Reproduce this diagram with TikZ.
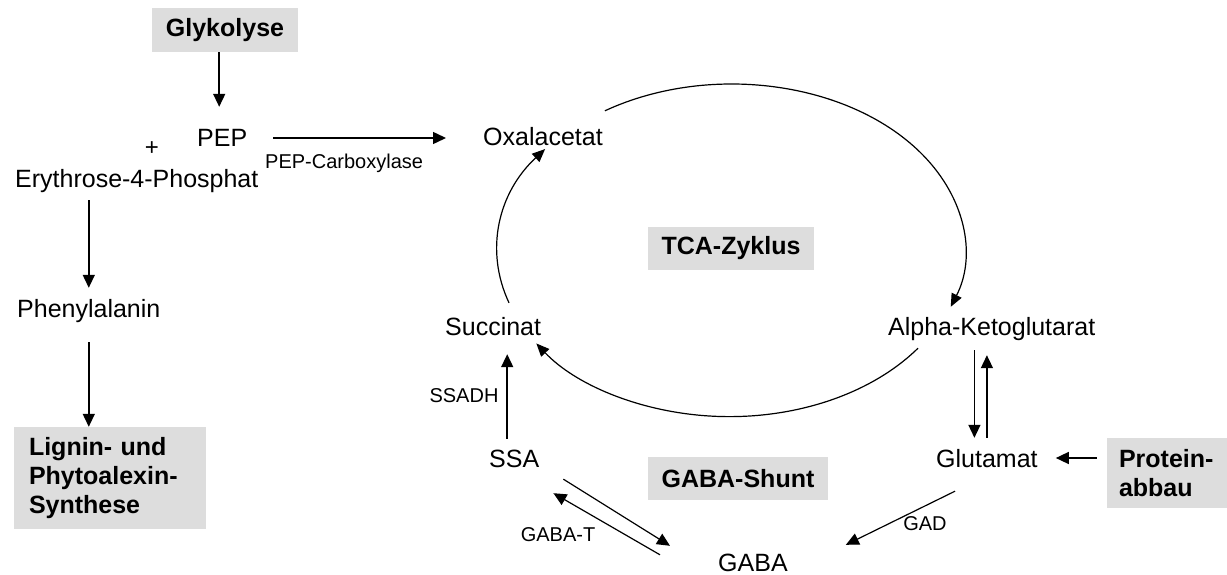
\documentclass[tikz,border=0pt]{standalone}
\usepackage{fontspec}
\setmainfont{Liberation Sans}
\usetikzlibrary{arrows.meta}
\definecolor{boxgray}{RGB}{221,221,221}
\begin{document}
\begin{tikzpicture}[x=1pt,y=-1pt,
  txt/.style={inner sep=0pt, font=\fontsize{25pt}{29pt}\selectfont, text height=18pt, text depth=5pt},
  lbl/.style={inner sep=0pt, font=\fontsize{20pt}{24pt}\selectfont},
  gbox/.style={fill=boxgray, inner sep=0pt, font=\bfseries\fontsize{25pt}{29pt}\selectfont},
  arr/.style={-{Triangle[length=13pt,width=12pt]}, line width=1.5pt},
  cyc/.style={-{Triangle[length=13pt,width=11pt]}, line width=1.2pt}]
\useasboundingbox (0,0) rectangle (1227,575);

% nodes
\node[gbox, minimum width=146pt, minimum height=44pt] (glyk) at (225,30) {Glykolyse};
\node[txt, anchor=base west] (pep) at (197,147) {PEP};
\node[lbl, font=\fontsize{24pt}{28pt}\selectfont] (plus) at (152,149) {+};
\node[txt, anchor=base west] (ery) at (15,188) {Erythrose-4-Phosphat};
\node[lbl, anchor=base west] (pepc) at (265,168) {PEP-Carboxylase};
\node[txt, anchor=base west] (oxa) at (483,146) {Oxalacetat};
\node[txt, anchor=base west] (phe) at (17,317) {Phenylalanin};
\node[gbox, minimum width=192pt, minimum height=102pt, text width=162pt, align=left] (lig) at (110,478) {Lignin- und\\Phytoalexin-\\Synthese};
\node[gbox, minimum width=166pt, minimum height=43pt] (tca) at (731,248) {TCA-Zyklus};
\node[txt, anchor=base west] (succ) at (445,335) {Succinat};
\node[txt, anchor=base west] (akg) at (888,335) {Alpha-Ketoglutarat};
\node[lbl] (ssadh) at (464,396) {SSADH};
\node[txt, anchor=base west] (ssa) at (489,467) {SSA};
\node[gbox, minimum width=180pt, minimum height=43pt] (shunt) at (738,478.5) {GABA-Shunt};
\node[txt, anchor=base west] (glut) at (936,467) {Glutamat};
\node[gbox, minimum width=120pt, minimum height=70pt, text width=96pt, align=left] (prot) at (1167,473) {Protein-\\abbau};
\node[lbl] (gabat) at (558,535) {GABA-T};
\node[lbl] (gad) at (925,524) {GAD};
\node[txt, anchor=base west] (gaba) at (718,571) {GABA};

% connectors
\draw[arr] ([xshift=-3pt]glyk.south -| pep.north) -- ([xshift=-3pt,yshift=22pt]pep.north);
\draw[arr] ([xshift=26pt,yshift=9pt]pep.base east) -- ([xshift=-37pt,yshift=9pt]pep.base east -| oxa.west);
\draw[arr] ([yshift=-7pt]phe.north |- ery.south) -- ([yshift=11pt]phe.north);
\draw[arr] ([yshift=-20pt]phe.south) -- (phe.south |- lig.north);

% TCA cycle
\draw[cyc] ([xshift=2pt,yshift=17pt]oxa.north east) arc[start angle=-123, end angle=20, x radius=233, y radius=166];
\draw[cyc] ([xshift=30pt,yshift=-8pt]akg.south west) arc[start angle=36, end angle=146, x radius=233, y radius=166];
\draw[cyc] ([xshift=64pt,yshift=14pt]succ.north west) arc[start angle=161.5, end angle=217.5, x radius=233, y radius=166];

% GABA shunt
\draw[arr] ([xshift=-7pt,yshift=10pt]ssa.north) -- ([xshift=-7pt,yshift=-14pt]ssa.north |- succ.south);
\draw[arr, line width=1.2pt] ([xshift=24pt,yshift=-7pt]ssa.south east) -- ([xshift=-48pt,yshift=7pt]gaba.north west);
\draw[arr, line width=1.2pt] ([xshift=-58pt,yshift=-2pt]gaba.north west) -- ([xshift=14pt,yshift=-21pt]ssa.south east);
\draw[arr, line width=1.2pt] ([xshift=19pt,yshift=-19pt]glut.south west) -- ([xshift=58pt,yshift=8pt]gaba.north east);
\draw[arr] ([xshift=-12.5pt,yshift=-10pt]glut.north |- akg.south) -- ([xshift=-12.5pt,yshift=11pt]glut.north);
\draw[arr] ([yshift=11pt]glut.north) -- ([yshift=-15pt]glut.north |- akg.south);
\draw[arr] ([xshift=-10pt,yshift=9pt]prot.west |- glut.base east) -- ([xshift=18pt,yshift=9pt]glut.base east);
\end{tikzpicture}
\end{document}
